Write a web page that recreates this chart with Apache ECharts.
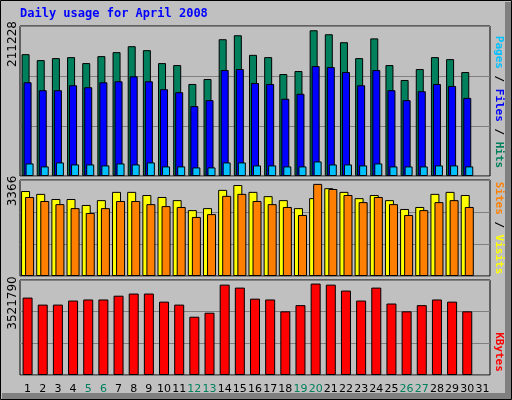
<!DOCTYPE html>
<html><head><meta charset="utf-8">
<script src="https://cdn.jsdelivr.net/npm/echarts@6/dist/echarts.min.js"></script>
<style>html,body{margin:0;padding:0;background:#c0c0c0}#c{width:512px;height:400px}</style>
</head><body><div id="c"></div>
<script>
const days = Array.from({length:31},(_,i)=>String(i+1));
const weekends = ['5','6','12','13','19','20','26','27'];
const hitsMax = 211228, visitsMax = 3366, kbytesMax = 3521790;
const hits  = [171600,163200,166000,167400,159000,168800,174400,182800,177200,159000,156200,129600,136600,192600,198200,170600,167400,143600,147800,205200,199600,188400,166000,193800,156200,135200,150600,167400,164600,146400,null];
const files = [132000,120800,120800,127800,125000,132000,133400,140400,133400,122200,118000,98400,106800,149200,150600,131000,129600,108800,115800,154800,153400,146400,127800,149200,120800,106800,119400,129600,126800,110000,null];
const pages = [17700,13500,19100,16300,16300,14900,17700,16300,19100,13500,13500,12100,12100,19100,19100,14900,14900,13500,13500,20500,16300,16300,14900,17700,13500,13500,13500,14900,14900,13500,null];
const visits= [2980,2880,2700,2700,2490,2660,2950,2950,2840,2770,2660,2310,2380,3020,3190,2950,2800,2660,2380,2730,3080,2950,2730,2840,2660,2350,2420,2880,2950,2840,null];
const sites = [2770,2630,2520,2380,2210,2380,2630,2630,2520,2450,2420,2070,2170,2810,2880,2630,2520,2420,2140,3230,3050,2840,2590,2770,2520,2140,2310,2590,2660,2420,null];
const kbytes= [2870000,2610000,2610000,2760000,2800000,2800000,2940000,3020000,3020000,2720000,2610000,2160000,2310000,3350000,3240000,2830000,2800000,2360000,2590000,3390000,3350000,3130000,2760000,3240000,2650000,2360000,2590000,2800000,2720000,2360000,null];

const ch = echarts.init(document.getElementById('c'));
const L=20, R=22;
const grids=[{left:L,right:R,top:26,height:150},{left:L,right:R,top:180,height:96},{left:L,right:R,top:280,height:95}];
function xAxis(i,show){return {type:'category',gridIndex:i,data:days,boundaryGap:true,
  axisLine:{show:false},axisTick:{show:false},
  axisLabel:{show:show,margin:9,interval:0,fontFamily:'DejaVu Sans',fontSize:11,
    formatter:v=>weekends.includes(v)?'{w|'+v+'}':'{n|'+v+'}',
    rich:{w:{color:'#00805c',fontSize:11,fontFamily:'DejaVu Sans'},n:{color:'#000',fontSize:11,fontFamily:'DejaVu Sans'}}}};}
function yAxis(i,max){return {type:'value',gridIndex:i,min:0,max:max,interval:max/3,
  axisLine:{show:false},axisTick:{show:false},axisLabel:{show:false},
  splitLine:{lineStyle:{color:'#808080',width:1}}};}
const bs={borderColor:'#000',borderWidth:1};
function bar(name,data,i,color,w,gap){return {name,type:'bar',xAxisIndex:i,yAxisIndex:i,data,barWidth:w,barGap:gap,
  itemStyle:Object.assign({color},bs),animation:false};}
const rt=(x,y,txt,rich)=>({type:'text',x,y,rotation:Math.PI/2,style:{text:txt,rich,font:'11px DejaVu Sans Mono',align:'center',verticalAlign:'middle'}});
ch.setOption({
  backgroundColor:'#c0c0c0',
  grid:grids.map(g=>Object.assign({show:true,borderColor:'#000',borderWidth:1,backgroundColor:'#c0c0c0'},g)),
  xAxis:[xAxis(0,false),xAxis(1,false),xAxis(2,true)],
  yAxis:[yAxis(0,hitsMax),yAxis(1,visitsMax),yAxis(2,kbytesMax)],
  series:[
    bar('Hits',hits,0,'#00805c',8,'-75%'),bar('Files',files,0,'#0000ff',8,'-75%'),bar('Pages',pages,0,'#00c0ff',8,'-75%'),
    bar('Visits',visits,1,'#ffff00',9,'-55%'),bar('Sites',sites,1,'#ff8000',9,'-55%'),
    bar('KBytes',kbytes,2,'#ff0000',10,'0%')
  ],
  graphic:[
    {type:'rect',shape:{x:0.5,y:0.5,width:511,height:399},style:{fill:null,stroke:'#000',lineWidth:1},silent:true,z:-1},
    {type:'rect',shape:{x:505,y:2,width:6,height:397},style:{fill:'#808080'},silent:true},
    {type:'rect',shape:{x:2,y:393,width:509,height:6},style:{fill:'#808080'},silent:true},
    {type:'text',left:20,top:8,style:{text:'Daily usage for April 2008',font:'bold 12px DejaVu Sans Mono',fill:'#0000ff'}},
    {type:'text',x:13,y:44,rotation:Math.PI/2,style:{text:'211228',font:'12px DejaVu Sans',fill:'#000',align:'center',verticalAlign:'middle'}},
    {type:'text',x:13,y:191,rotation:Math.PI/2,style:{text:'3366',font:'12px DejaVu Sans',fill:'#000',align:'center',verticalAlign:'middle'}},
    {type:'text',x:13,y:303,rotation:Math.PI/2,style:{text:'3521790',font:'12px DejaVu Sans',fill:'#000',align:'center',verticalAlign:'middle'}},
    {type:'text',x:499,y:102,rotation:-Math.PI/2,style:{text:'{p|Pages}{k| / }{f|Files}{k| / }{h|Hits}',align:'center',verticalAlign:'middle',
      rich:{p:{fill:'#00c0ff',font:'bold 11px DejaVu Sans Mono'},f:{fill:'#0000ff',font:'bold 11px DejaVu Sans Mono'},h:{fill:'#00805c',font:'bold 11px DejaVu Sans Mono'},k:{fill:'#000',font:'bold 11px DejaVu Sans Mono'}}}},
    {type:'text',x:499,y:228,rotation:-Math.PI/2,style:{text:'{s|Sites}{k| / }{v|Visits}',align:'center',verticalAlign:'middle',
      rich:{s:{fill:'#ff8000',font:'bold 11px DejaVu Sans Mono'},v:{fill:'#ffff00',font:'bold 11px DejaVu Sans Mono'},k:{fill:'#000',font:'bold 11px DejaVu Sans Mono'}}}},
    {type:'text',x:499,y:352,rotation:-Math.PI/2,style:{text:'KBytes',font:'bold 11px DejaVu Sans Mono',fill:'#ff0000',align:'center',verticalAlign:'middle'}}
  ]
});
</script></body></html>
